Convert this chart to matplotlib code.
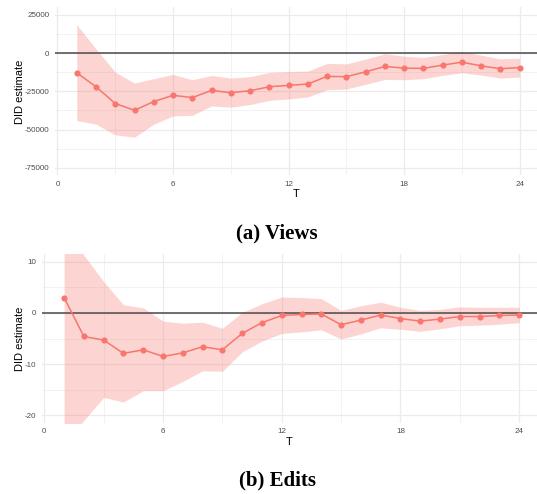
"""Estimaciones DID por periodo T: (a) Views, (b) Edits."""

import matplotlib.pyplot as plt
from matplotlib.ticker import MultipleLocator

# Datos
periods = [1, 2, 3, 4, 5, 6, 7, 8, 9, 10, 11, 12,
           13, 14, 15, 16, 17, 18, 19, 20, 21, 22, 23, 24]

views_est = [-12800, -22000, -33000, -37400, -31700, -27600, -29100, -24400,
             -25900, -24600, -22000, -21100, -20200, -15200, -15400, -12200,
             -8700, -9800, -10000, -7800, -5900, -8300, -10200, -9400]
views_hi = [18700, 2800, -12400, -19600, -16700, -13900, -17400, -14600,
            -16300, -15400, -12600, -12000, -11700, -6700, -7000, -3900,
            -400, -2000, -2800, -900, 1100, -1300, -3700, -3300]
views_lo = [-44100, -46500, -53500, -55000, -46500, -41100, -40700, -34600,
            -35400, -33700, -30900, -30000, -28700, -23900, -23500, -20400,
            -17200, -17400, -16700, -14600, -12800, -14400, -16300, -15700]

edits_est = [3.0, -4.6, -5.3, -7.9, -7.2, -8.5, -7.8, -6.6, -7.2, -4.0, -1.9, -0.5,
             -0.3, -0.2, -2.3, -1.4, -0.4, -1.1, -1.6, -1.2, -0.7, -0.7, -0.5, -0.4]
edits_hi = [18.0, 11.3, 6.1, 1.6, 1.0, -1.6, -2.0, -1.8, -3.0, 0.1, 1.8, 3.1,
            3.0, 2.8, 0.5, 1.4, 2.1, 1.1, 0.5, 0.7, 1.2, 1.1, 1.1, 1.1]
edits_lo = [-26.0, -21.0, -16.5, -17.4, -15.2, -15.2, -13.4, -11.3, -11.4, -7.6, -5.5, -4.0,
            -3.7, -3.3, -5.1, -4.1, -2.9, -3.2, -3.6, -3.1, -2.5, -2.4, -2.2, -1.9]

RED = "#F8766D"
GRID = "#EBEBEB"
TICK = "#4D4D4D"
SANS = ["Liberation Sans", "DejaVu Sans"]
SERIF = ["Liberation Serif", "DejaVu Serif"]

fig = plt.figure(figsize=(5.37, 4.94), dpi=100)
fig.patch.set_facecolor("white")


def panel(rect, est, lo, hi, ylim, ymajor, ylab_x):
    ax = fig.add_axes(rect)
    ax.set_xlim(-0.13, 24.9)
    ax.set_ylim(*ylim)
    ax.xaxis.set_major_locator(MultipleLocator(6))
    ax.xaxis.set_minor_locator(MultipleLocator(3))
    ax.yaxis.set_major_locator(MultipleLocator(ymajor))
    ax.yaxis.set_minor_locator(MultipleLocator(ymajor / 2))
    ax.grid(True, which="major", color=GRID, lw=0.9)
    ax.grid(True, which="minor", color=GRID, lw=0.45)
    ax.set_axisbelow(True)
    for s in ax.spines.values():
        s.set_visible(False)
    ax.tick_params(which="both", length=0)
    ax.tick_params(axis="y", pad=4.0, labelsize=5.8, labelcolor=TICK)
    ax.tick_params(axis="x", pad=3.8, labelsize=5.8, labelcolor=TICK)
    ax.yaxis.set_major_formatter(lambda v, p: f"{v:.0f}")
    for lab in ax.get_xticklabels() + ax.get_yticklabels():
        lab.set_family(SANS)

    ax.fill_between(periods, lo, hi, color=RED, alpha=0.3, lw=0)
    ax.axhline(0, color="#4a4a4a", lw=1.1)
    ax.plot(periods, est, color=RED, lw=1.1, marker="o", ms=3.4)

    ax.set_xlabel("T", fontsize=8, family=SANS, labelpad=1.2)
    ax.set_ylabel("DID estimate", fontsize=8, family=SANS)
    ax.yaxis.set_label_coords(ylab_x, 0.5)
    return ax


panel([0.1024, 0.6451, 0.8976, 0.340], views_est, views_lo, views_hi,
      (-80000, 30000), 25000, -0.062)
panel([0.0777, 0.1437, 0.9223, 0.342], edits_est, edits_lo, edits_hi,
      (-21.5, 11.5), 10, -0.033)

fig.text(0.516, 0.528, "(a) Views", ha="center", va="center",
         fontsize=15, fontweight="bold", family=SERIF)
fig.text(0.516, 0.027, "(b) Edits", ha="center", va="center",
         fontsize=15, fontweight="bold", family=SERIF)

fig.savefig("out.png", dpi=100, facecolor="white")
plt.close(fig)
